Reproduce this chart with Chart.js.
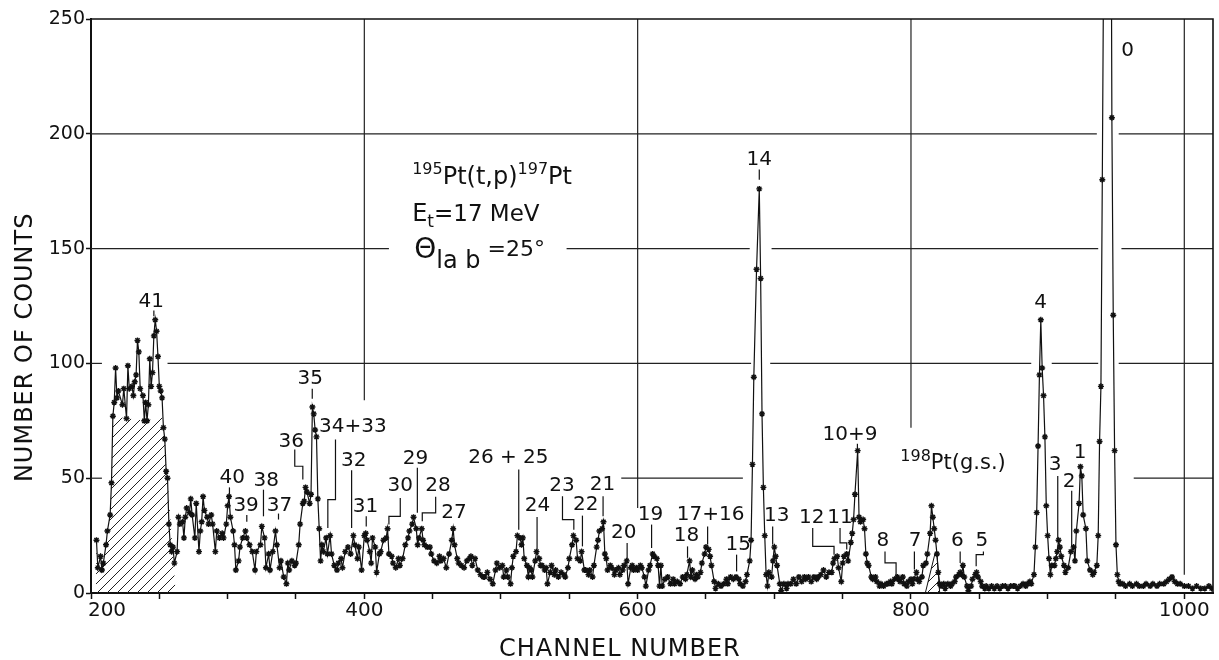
<!DOCTYPE html>
<html>
<head>
<meta charset="utf-8">
<script src="https://cdn.jsdelivr.net/npm/chart.js@4.4.1/dist/chart.umd.min.js"></script>
<style>
  html, body { margin: 0; padding: 0; background: #fff; }
  #wrap { width: 1219px; height: 660px; }
</style>
</head>
<body>
<div id="wrap"><canvas id="spectrum" width="1219" height="660"></canvas></div>
<script>
// Spectrum (channel, counts)
const chA = [204,205,207,208,209,211,212,214,215,216,217,218,219,220,223,224,226,227,228,230,231,232,233,234,235,236,238,239,240,241,242,243,244,245,246,247,248,249,250,251,252,253,254,255,256,257,258,259,260,261,263,264,265,267,268,269,270,272,273,274,276,277,279,280,281,282,283,285,286,288,289,291,292,294,296,297,299,300,301,302,304,305,306,308,309,311,313,314,316,318,320,321,324,325,327,328,330,331,333,335,336,338,339];
const nA  = [23,11,16,10,13,21,27,34,48,77,83,98,85,88,82,89,76,99,89,90,86,92,95,110,105,89,86,75,83,75,82,102,90,96,112,119,114,103,90,88,85,72,67,53,50,30,21,18,20,13,18,33,30,31,24,33,37,35,41,34,24,39,18,27,31,42,36,33,30,34,30,18,27,24,26,24,30,38,42,33,27,21,10,14,20,24,27,24,21,18,10,18,21,29,24,11,17,10,18,27,21,11,14];

const chB = [341,343,344,345,347,349,350,352,353,355,356,357,358,360,361,362,363,364,365,366,367,368,369,370,372,373,375,376,378,380,381,383,384,386,388,390,392,393,395,396,398,400,401,402,404,405,406,408,409,411,412,414,416,417,418,420,421,423,425,426,428,430,432,433,435,436,438,439,440,442,443,444,446,448,449,451,453,455,456,458,460,462,464,465,466,468,469,471,473,475,477];
const nB  = [7,4,13,10,14,12,13,21,30,39,40,46,44,39,43,81,78,71,68,41,28,14,21,18,24,17,25,17,12,10,13,15,11,18,20,17,25,21,15,20,10,25,26,23,18,13,24,20,9,17,18,23,24,28,17,16,13,11,15,12,15,21,24,27,30,33,28,21,24,28,23,21,20,20,17,14,13,16,14,15,11,17,23,28,21,15,13,12,11,14,15];

const chC = [478,479,481,483,485,487,488,490,492,494,496,497,499,501,502,504,505,507,508,509,511,512,514,515,516,517,519,520,521,522,523,525,526,528,529,530,532,533,534,536,537,539,540,542,544,546,547,549,550,552,553,555,556,558,559,561,562,564,565,567,568,570,571,572,574,575,576,577,578,580,581,583,584,586,587,589,590,592,593,595,596,597,599,600,602,603,605,606,608,609,611,612,614,615,616];
const nC  = [16,12,15,10,8,7,7,9,6,4,10,13,11,12,7,10,7,4,11,16,18,25,24,21,24,15,12,7,11,10,7,14,18,15,12,12,10,11,4,9,12,8,10,7,9,8,7,11,15,21,25,23,15,14,18,10,10,8,10,7,12,20,23,27,28,31,17,15,10,12,11,8,10,11,8,10,12,14,4,11,12,10,11,10,12,11,7,3,10,12,17,16,15,12,3];

const chD = [617,618,620,622,624,626,627,629,631,633,635,636,638,639,640,642,643,644,646,647,649,650,652,653,654,656,657,659,661,663,665,666,668,670,672,674,675,677,679,680,682,683,684,685,687,689,690,691,692,693,694,695,696,698,699,700,701,702,704,705,707,709,710,712,714,716,718,720,722,723,725,727,729,731,732,734,736,738,740,742,743,744,746,747,749,750,751,753,754,756,757,758,759,761,762,763];
const nD  = [12,3,6,7,4,6,4,5,4,7,6,8,14,7,10,6,8,7,9,13,17,20,19,16,12,5,2,4,3,4,6,4,7,6,7,6,4,3,5,8,14,23,56,94,141,176,137,78,46,25,8,3,9,7,14,20,16,12,4,1,4,2,4,4,6,4,7,5,7,6,7,5,7,6,7,8,10,7,9,9,13,15,16,11,5,13,16,17,14,22,26,32,43,62,33,31];

const chE = [765,766,767,768,769,771,772,774,775,777,778,780,782,783,785,786,788,790,791,792,794,795,797,798,800,801,802,804,805,806,808,809,811,812,814,815,816,817,818,819,820,821,822,824,825,827,829,830,832,833,835,836,837,838,839,841,842,844,845,847,848,849,851,852,854,855,857,859,861,863,865,867,869,871,873,875,876,878,880,882,884,885,887,888];
const nE  = [32,28,17,13,12,7,6,7,5,3,4,3,4,4,5,4,6,7,6,5,7,4,3,5,6,4,6,9,6,5,7,12,13,17,26,38,33,28,23,17,9,4,3,4,2,4,3,4,5,7,8,9,8,12,7,3,1,3,6,8,9,7,5,3,2,3,2,3,2,3,2,3,3,2,3,3,3,2,3,4,3,4,5,4];

// peak 0 runs far off scale; the tops are guesses and get clipped
const chF = [890,891,892,893,894,895,896,897,898,899,900,901,902,903,905,906,907,908,909,910,912,913,915,917,919,920,921,923,924,925,926,928,929,931,933,934,936,937,938,939,940,941,942,943,944,945,946,947,948,949,950,951,952,953,955,957,960,962,965,967,970,972,975,977,980,982,985,987,989,991,993,995,997,1000,1003,1006,1009,1012,1015,1018,1020];
const nF  = [8,20,35,64,95,119,98,86,68,38,25,15,8,12,12,15,18,23,20,16,12,9,11,18,20,14,27,39,55,51,34,28,14,10,8,9,12,25,66,90,180,280,700,1000,1000,800,400,207,121,62,21,8,5,4,4,3,4,3,4,3,3,4,3,4,3,4,4,5,6,7,5,4,4,3,3,2,3,2,2,3,2];

const channels = [].concat(chA, chB, chC, chD, chE, chF);
const counts = [].concat(nA, nB, nC, nD, nE, nF);

// hatched regions (channel, counts)
const hatch41Ch = [203.5,204,205,207,208,209,211,212,214,215,216,239,241,252,253,254,255,256,262];
const hatch41N  = [0,23,11,16,10,13,21,27,34,48,77,75,75,77,72,67,53,50,0];
const hatch198Ch = [810.5,817.5,819,820,821];
const hatch198N  = [0,17,17,9,0];

// axis ticks
const xLabels = [200, 400, 600, 800, 1000];

// partial grid lines (value, spans)
const gridRowsAt = [50, 100, 150, 200];
const gridRowsSpans = [
  [[200,208],[588,677],[963,1021]],
  [[200,208],[256,683],[697,888],[903,937],[952,1021]],
  [[200,418],[548,682],[698,937],[954,1021]],
  [[200,936],[952,1021]]
];
const gridColsAt = [400, 600, 800, 1000];
const gridColsSpans = [[[84,250]], [[37,250]], [[72,250]], [[8,250]]];

// peak labels
const peakText = ['41','40','39','38','37','36','35','34+33','32','31','30','29','28','27','26 + 25','24','23','22','21','20','19','18','17+16','15','14','13','12','11','10+9','8','7','6','5','4','3','2','1','0'];
const peakCh   = [244,303.3,313.5,328.2,337.9,346.5,360.4,391.6,392.3,400.9,426.3,437.5,453.9,465.6,505.4,526.7,544.7,562,574.3,589.9,609.4,635.8,653.4,673.6,689,701.7,727.4,748.1,755.4,779.4,803,834,851.9,894.9,905.4,915.7,923.8,958.6];
const peakN    = [124.5,48,35.6,46.5,35.6,63.7,91,70,55.2,35.2,44.3,56,44.3,32.7,56.7,35.6,44.3,36.3,45,24,32,22.5,32,18.9,186.5,31.2,30.5,30.5,66.5,20.3,20.3,20.3,20.3,124,53.7,46,59,234];
const leaders = [
  [[246,123],[246,120.5]],
  [[301.3,46],[301.3,43]],
  [[314,34],[314,31]],
  [[326.2,45],[326.2,33.4]],
  [[337.2,34.6],[337.2,32]],
  [[349.1,62.5],[349.1,55.2],[355,55.2],[355,49.4]],
  [[361.9,89],[361.9,84.6]],
  [[378.9,66.9],[378.9,40.7],[373.3,40.7],[373.3,28.3]],
  [[390.7,53.5],[390.7,28.3]],
  [[401.4,33.4],[401.4,29]],
  [[426.3,41.4],[426.3,33.4],[418,33.4],[418,29.8]],
  [[438.8,54.5],[438.8,34.9]],
  [[452.2,41.9],[452.2,34.9],[442.4,34.9],[442.4,31.2]],
  [],
  [[513,53.8],[513,27.6]],
  [[526.4,33.1],[526.4,18.9]],
  [[545,42.1],[545,32],[553.3,32],[553.3,27.6]],
  [[559.6,33.7],[559.6,20.3]],
  [[574.7,42.1],[574.7,33.4]],
  [[592.3,21.8],[592.3,14.5]],
  [[610.2,29.8],[610.2,19.6]],
  [[636.5,20.3],[636.5,15.3]],
  [[651.2,29],[651.2,21.1]],
  [[672.4,16.7],[672.4,9.4]],
  [[689,184.5],[689,180]],
  [[698.8,29],[698.8,21.1]],
  [[728.1,28.3],[728.1,20.3],[743.7,20.3],[743.7,16.7]],
  [[748.1,28.3],[748.1,21.8],[753,21.8],[753,18.9]],
  [[760.8,65],[760.8,63]],
  [[781,18.1],[781,13.1],[789.1,13.1],[789.1,7.5]],
  [[802.5,18.1],[802.5,10.2]],
  [[836,18.1],[836,13.1]],
  [[853,18.1],[853,16.7],[847.7,16.7],[847.7,11.6]],
  [],
  [[907.4,51],[907.4,23.5]],
  [[917.6,44.5],[917.6,20]],
  [],
  []
];

// reaction text, each line: [channel, counts, parts]
const notes = [
  [435, 178, [['195', 0.7, -10], ['Pt(t,p)', 1.05, 0], ['197', 0.7, -10], ['Pt', 1.05, 0]]],
  [435, 162, [['E', 1.05, 0], ['t', 0.75, 6], ['=17 MeV', 1, 0]]],
  [436.5, 146, [['\u0398', 1.2, 0], ['la b', 1.05, 10], [' =25\u00b0', 0.95, -2]]],
  [792.2, 53.8, [['198', 0.7, -8], ['Pt(g.s.)', 0.9, 0]]]
];

const INK = '#111';
const FONT = '"DejaVu Sans", sans-serif';

function hatchPattern() {
  const c = document.createElement('canvas');
  c.width = 10; c.height = 10;
  const g = c.getContext('2d');
  g.strokeStyle = '#222';
  g.lineWidth = 1;
  g.beginPath();
  g.moveTo(0, 10); g.lineTo(10, 0);
  g.moveTo(-2, 2); g.lineTo(2, -2);
  g.moveTo(8, 12); g.lineTo(12, 8);
  g.stroke();
  return g.createPattern(c, 'repeat');
}

function pairs(xs, ys) {
  return xs.map((v, i) => ({ x: v, y: ys[i] }));
}

function drawParts(ctx, x, y, parts, size) {
  let cx = x;
  parts.forEach(([t, k, dy]) => {
    ctx.font = Math.round(size * k) + 'px ' + FONT;
    ctx.fillText(t, cx, y + dy);
    cx += ctx.measureText(t).width;
  });
}

const decorations = {
  id: 'decorations',
  beforeDatasetsDraw(chart) {
    const { ctx, scales: { x, y } } = chart;
    ctx.save();
    ctx.strokeStyle = '#222';
    ctx.lineWidth = 1.2;
    gridRowsAt.forEach((v, i) => {
      const py = y.getPixelForValue(v);
      gridRowsSpans[i].forEach(([a, b]) => {
        ctx.beginPath();
        ctx.moveTo(x.getPixelForValue(a), py);
        ctx.lineTo(x.getPixelForValue(b), py);
        ctx.stroke();
      });
    });
    gridColsAt.forEach((v, i) => {
      const px = x.getPixelForValue(v);
      gridColsSpans[i].forEach(([a, b]) => {
        ctx.beginPath();
        ctx.moveTo(px, y.getPixelForValue(a));
        ctx.lineTo(px, y.getPixelForValue(b));
        ctx.stroke();
      });
    });
    ctx.restore();
  },
  afterDatasetsDraw(chart) {
    const { ctx, scales: { x, y } } = chart;
    ctx.save();
    ctx.fillStyle = INK;
    ctx.strokeStyle = INK;
    ctx.lineWidth = 1.2;
    ctx.textAlign = 'center';
    ctx.textBaseline = 'alphabetic';
    ctx.font = '20px ' + FONT;
    peakText.forEach((t, i) => {
      ctx.fillText(t, x.getPixelForValue(peakCh[i]), y.getPixelForValue(peakN[i]));
      const path = leaders[i];
      if (path.length) {
        ctx.beginPath();
        path.forEach(([c, n], j) => {
          const px = x.getPixelForValue(c), py = y.getPixelForValue(n);
          if (j === 0) ctx.moveTo(px, py); else ctx.lineTo(px, py);
        });
        ctx.stroke();
      }
    });
    ctx.textAlign = 'left';
    notes.forEach(([c, n, parts]) => {
      drawParts(ctx, x.getPixelForValue(c), y.getPixelForValue(n), parts, 23);
    });
    ctx.restore();
  },
  afterDraw(chart) {
    const { ctx, chartArea: a, scales: { x, y } } = chart;
    ctx.save();
    // top and right sides of the frame
    ctx.strokeStyle = INK;
    ctx.lineWidth = 1.6;
    ctx.beginPath();
    ctx.moveTo(a.left, a.top);
    ctx.lineTo(a.right, a.top);
    ctx.lineTo(a.right, a.bottom);
    ctx.stroke();
    // x tick labels
    ctx.fillStyle = INK;
    ctx.font = '20px ' + FONT;
    ctx.textAlign = 'center';
    ctx.textBaseline = 'alphabetic';
    xLabels.forEach(v => {
      const shift = v === 200 ? 16 : 0;
      ctx.fillText(String(v), x.getPixelForValue(v) + shift, a.bottom + 23);
    });
    // axis titles
    ctx.letterSpacing = '1px';
    ctx.font = '24px ' + FONT;
    ctx.fillText('CHANNEL NUMBER', x.getPixelForValue(587), a.bottom + 63);
    ctx.translate(a.left - 59, y.getPixelForValue(107));
    ctx.rotate(-Math.PI / 2);
    ctx.fillText('NUMBER OF COUNTS', 0, 0);
    ctx.restore();
  }
};

Chart.defaults.font.family = FONT;
Chart.defaults.color = INK;

const hatch = hatchPattern();

new Chart(document.getElementById('spectrum').getContext('2d'), {
  type: 'line',
  data: {
    datasets: [
      {
        data: pairs(channels, counts),
        borderColor: INK,
        borderWidth: 1.2,
        tension: 0,
        pointStyle: 'star',
        pointRadius: 3,
        pointBorderWidth: 1.4,
        pointBorderColor: INK,
        pointBackgroundColor: INK,
        fill: false
      },
      {
        data: pairs(hatch41Ch, hatch41N),
        borderWidth: 0,
        pointRadius: 0,
        tension: 0,
        backgroundColor: hatch,
        fill: 'origin'
      },
      {
        data: pairs(hatch198Ch, hatch198N),
        borderColor: INK,
        borderWidth: 1,
        pointRadius: 0,
        tension: 0,
        backgroundColor: hatch,
        fill: 'origin'
      }
    ]
  },
  options: {
    responsive: false,
    animation: false,
    devicePixelRatio: 1,
    layout: { padding: { left: 0, right: 6, top: 19, bottom: 0 } },
    plugins: { legend: { display: false }, tooltip: { enabled: false } },
    scales: {
      x: {
        type: 'linear',
        min: 200,
        max: 1021,
        afterBuildTicks: s => { s.ticks = s.ticks.filter(t => t.value % 50 === 0); },
        afterFit: s => { s.height = 67; },
        ticks: { stepSize: 50, autoSkip: false, maxRotation: 0, includeBounds: false, callback: () => '' },
        grid: { drawOnChartArea: false, drawTicks: true, tickLength: 6, tickColor: INK, tickWidth: 1.5 },
        border: { display: true, color: INK, width: 2 }
      },
      y: {
        min: 0,
        max: 250,
        afterFit: s => { s.width = 91; },
        ticks: { stepSize: 50, color: INK, font: { size: 19 }, padding: 1 },
        grid: { drawOnChartArea: false, drawTicks: true, tickLength: 5, tickColor: INK, tickWidth: 1.5 },
        border: { display: true, color: INK, width: 2 }
      }
    }
  },
  plugins: [decorations]
});
</script>
</body>
</html>
